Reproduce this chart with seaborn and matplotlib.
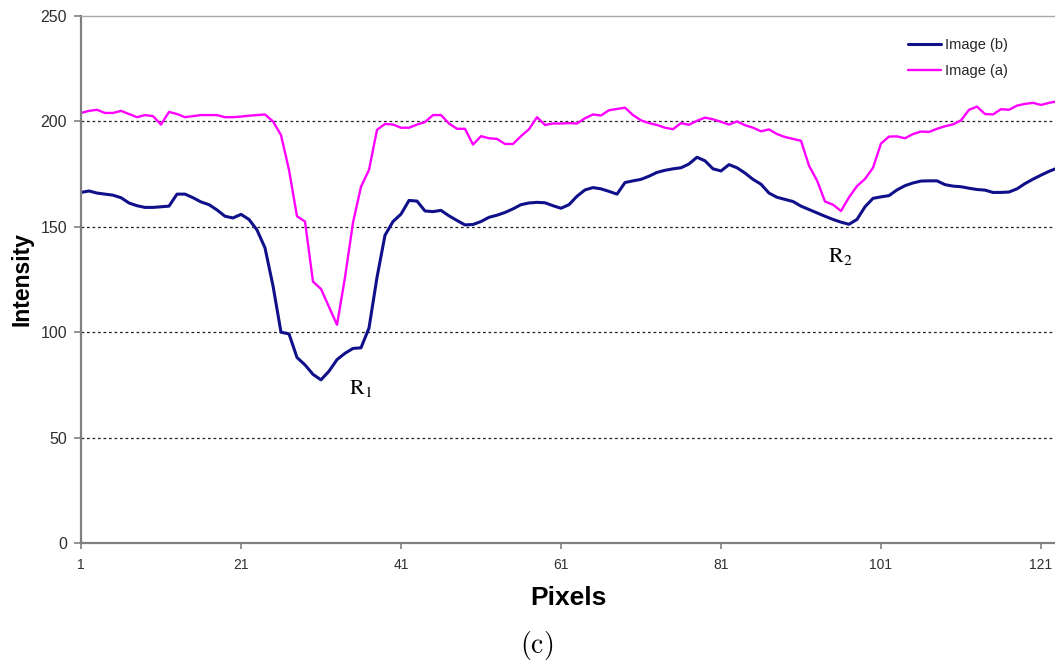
import numpy as np
import pandas as pd
import matplotlib
matplotlib.use("Agg")
import matplotlib.pyplot as plt
from matplotlib import font_manager
import seaborn as sns

# Intensity profiles along a line of pixels
pixels = list(range(1, 124))

image_a = [
    204, 205, 205.5, 204, 204, 205, 203.5, 202, 203, 202.5,
    198.5, 204.5, 203.5, 202, 202.5, 203, 203, 203, 202, 202,
    202.3, 202.7, 203, 203.3, 200, 193.5, 177, 155, 152.5, 124,
    120.5, 112, 103.5, 126, 152, 169, 177, 196, 198.8, 198.5,
    197, 197, 198.5, 199.7, 203, 203, 199, 196.5, 196.5, 189,
    193, 192, 191.7, 189.3, 189.3, 193, 196.3, 202, 198.3, 199,
    199, 199.2, 199, 201.5, 203.3, 202.8, 205.3, 205.9, 206.5, 203,
    200.5, 199.2, 198.3, 197, 196.3, 199.2, 198.4, 200.3, 201.8, 201,
    199.8, 198.5, 200, 198.2, 197, 195.3, 196.2, 194, 192.6, 191.7,
    190.8, 179, 172, 162, 160.5, 157.5, 164, 169.3, 172.7, 178,
    189.5, 192.8, 192.9, 192, 194, 195.2, 195, 196.5, 197.7, 198.6,
    200.5, 205.5, 207, 203.5, 203.3, 205.8, 205.5, 207.5, 208.3, 208.8,
    207.8, 208.8, 209.5,
]

image_b = [
    166.3, 167, 166, 165.5, 165, 163.8, 161.3, 160, 159.2, 159.2,
    159.5, 159.8, 165.5, 165.5, 163.8, 161.8, 160.5, 158, 155, 154.2,
    155.9, 153.5, 148.5, 140, 122, 100, 99.2, 88, 84.5, 80,
    77.4, 81.5, 87, 90, 92.3, 92.6, 102, 126, 146, 152.5,
    156, 162.5, 162.2, 157.5, 157.2, 157.8, 155.2, 153, 150.9, 151.1,
    152.5, 154.5, 155.5, 156.8, 158.5, 160.5, 161.3, 161.6, 161.4, 160,
    158.8, 160.5, 164.5, 167.5, 168.6, 168, 166.8, 165.5, 171, 171.8,
    172.5, 174, 175.8, 176.8, 177.5, 178, 179.8, 183, 181.3, 177.5,
    176.5, 179.5, 178, 175.5, 172.5, 170.2, 166, 164, 163, 162,
    159.8, 158.2, 156.6, 155, 153.5, 152.2, 151.2, 153.5, 159.5, 163.5,
    164.2, 164.8, 167.5, 169.5, 170.8, 171.7, 171.8, 171.8, 170, 169.3,
    169, 168.3, 167.7, 167.4, 166.3, 166.3, 166.5, 168, 170.5, 172.6,
    174.5, 176.3, 177.8,
]

series_names = ["Image (b)", "Image (a)"]
series_colors = ["#10108a", "#ff00ff"]
x_ticks = [1, 21, 41, 61, 81, 101, 121]
y_ticks = [0, 50, 100, 150, 200, 250]

df = pd.concat([
    pd.DataFrame({"Pixels": pixels, "Intensity": image_b, "series": "Image (b)"}),
    pd.DataFrame({"Pixels": pixels, "Intensity": image_a, "series": "Image (a)"}),
])

sns.set_theme(style="white")
available = {f.name for f in font_manager.fontManager.ttflist}
narrow = "Liberation Sans Narrow" if "Liberation Sans Narrow" in available else "Liberation Sans"
plt.rcParams["font.family"] = ["Liberation Sans", "DejaVu Sans"]

fig = plt.figure(figsize=(10.55, 6.61), dpi=100)
ax = fig.add_axes([81 / 1055, 1 - 543 / 661, 974 / 1055, 527 / 661])

sns.lineplot(
    data=df, x="Pixels", y="Intensity", hue="series",
    hue_order=series_names, palette=series_colors, ax=ax,
    linewidth=2.1, legend=True,
)
for line, lw in zip(ax.lines, [2.2, 1.7]):
    line.set_linewidth(lw)

ax.set_xlim(1, 122.75)
ax.set_ylim(0, 250)
ax.set_xticks(x_ticks)
ax.set_yticks(y_ticks)

# dotted horizontal gridlines
for yv in y_ticks[1:-1]:
    ax.axhline(yv, color="#222222", linestyle=(0, (2.2, 2.2)), linewidth=0.9, zorder=0)

for side in ["left", "bottom"]:
    ax.spines[side].set_color("#808080")
    ax.spines[side].set_linewidth(1.6)
ax.spines["top"].set_color("#a8a8a8")
ax.spines["top"].set_linewidth(1.0)
ax.spines["right"].set_visible(False)

ax.tick_params(axis="y", direction="out", length=5, width=1.2, color="#808080",
               labelsize=11.5, labelcolor="#303030", pad=5, left=True)
ax.tick_params(axis="x", direction="out", length=4, width=1.2, color="#808080",
               labelsize=10, labelcolor="#303030", pad=7, bottom=True)
for lab in ax.get_xticklabels():
    lab.set_fontfamily(narrow)

ax.set_xlabel("Pixels", fontsize=19, fontweight="bold", color="black", va="center")
ax.xaxis.set_label_coords(0.5, -(598 - 543) / 527)
ax.set_ylabel("Intensity", fontsize=16.5, fontweight="bold", color="black", va="center")
ax.yaxis.set_label_coords(-(81 - 22) / 974, 0.5)

leg = ax.legend(loc="upper right", bbox_to_anchor=(0.965, 0.983), frameon=False,
                fontsize=10.5, handlelength=2.3, handletextpad=0.25, labelspacing=0.8)
for h, lw in zip(leg.get_lines(), [2.2, 1.7]):
    h.set_linewidth(lw)

ax.text(35.9, 73.5, r"$\mathrm{R}_1$", fontsize=16, ha="center", va="center",
        math_fontfamily="stix", color="black")
ax.text(95.9, 135.7, r"$\mathrm{R}_2$", fontsize=16, ha="center", va="center",
        math_fontfamily="stix", color="black")

fig.text(537 / 1055, 1 - 645 / 661, r"$\mathrm{(c)}$", fontsize=20, ha="center",
         va="center", math_fontfamily="cm", color="black")

fig.savefig("out.png", dpi=100)
